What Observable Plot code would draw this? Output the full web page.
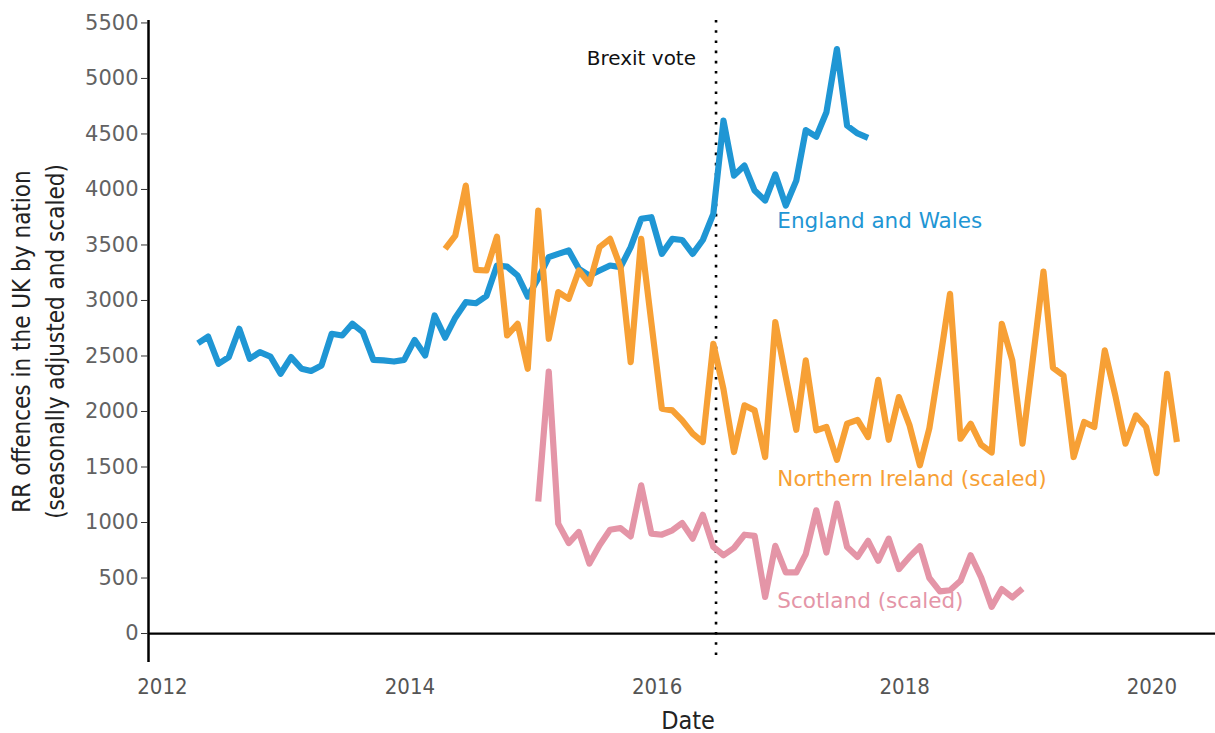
<!DOCTYPE html>
<html>
<head>
<meta charset="utf-8">
<script src="https://cdn.jsdelivr.net/npm/d3@7"></script>
<script src="https://cdn.jsdelivr.net/npm/@observablehq/plot@0.6"></script>
<style>
  html, body { margin: 0; padding: 0; background: #fff; }
  .cond text { font-stretch: condensed; }
</style>
</head>
<body>
<div id="chart"></div>
<script>
// ---- Data (monthly, seasonally adjusted; NI and Scotland scaled) ----
const seriesNames = ["England and Wales", "Northern Ireland (scaled)", "Scotland (scaled)"];
const seriesStart = ["2012-04", "2014-04", "2015-01"]; // first month of each series

const englandWales = [
  2615,2675,2430,2490,2745,2475,2535,2495,2340,2490,
  2385,2365,2415,2700,2685,2790,2715,2465,2460,2450,
  2465,2645,2505,2865,2665,2845,2985,2975,3040,3315,
  3305,3225,3035,3200,3390,3420,3450,3285,3225,3270,
  3315,3300,3480,3735,3750,3420,3555,3545,3420,3545,
  3780,4620,4125,4215,3990,3900,4135,3855,4080,4535,
  4475,4695,5265,4575,4505,4465
];
const northernIreland = [
  3465,3585,4035,3275,3270,3575,2685,2790,2385,3810,
  2655,3075,3015,3270,3150,3480,3555,3300,2445,3555,
  2800,2025,2010,1920,1800,1725,2610,2200,1635,2055,
  2010,1590,2805,2310,1835,2460,1830,1860,1565,1890,
  1925,1770,2285,1745,2130,1880,1515,1850,2450,3060,
  1755,1890,1700,1630,2790,2460,1710,2480,3260,2395,
  2325,1590,1905,1860,2550,2145,1710,1965,1860,1445,
  2340,1725
];
const scotland = [
  1190,2360,990,815,915,630,795,935,950,875,
  1335,900,890,930,995,855,1070,780,705,770,
  890,880,330,790,550,550,715,1110,730,1170,
  780,690,835,655,855,580,690,785,500,380,
  390,475,705,505,240,400,325,405
];

const yTicks = [0,500,1000,1500,2000,2500,3000,3500,4000,4500,5000,5500];
const xTickYears = [2012, 2014, 2016, 2018, 2020];
const brexitVote = "2016-06-23";
const brexitLabel = "Brexit vote";
// label anchor points (date, value) for the direct series labels
const labelDates = ["2016-12-21", "2016-12-21", "2016-12-21"];
const labelValues = [3712, 1390, 290];

// ---- Styling ----
const colors = ["#1f96d4", "#f7a035", "#e495a7"];
const sans = "'DejaVu Sans', 'Noto Sans', sans-serif";
const cond = "'DejaVu Sans Condensed', 'DejaVu Sans', sans-serif";

// ---- Build table ----
function monthly(start, values, name) {
  const [y, m] = start.split("-").map(Number);
  return values.map((v, i) => ({ series: name, date: new Date(Date.UTC(y, m - 1 + i, 15)), value: v }));
}
const allSeries = [englandWales, northernIreland, scotland];
const data = allSeries.flatMap((vals, k) => monthly(seriesStart[k], vals, seriesNames[k]));
const labels = seriesNames.map((n, k) => ({ name: n, date: new Date(labelDates[k]), value: labelValues[k] }));

const xDomain = [new Date(Date.UTC(2011, 10, 21)), new Date(Date.UTC(2020, 6, 7))];

const chart = Plot.plot({
  width: 1215,
  height: 733,
  marginLeft: 148,
  marginRight: 0,
  marginTop: 20,
  marginBottom: 71,
  style: { background: "#fff", overflow: "visible" },
  x: { type: "utc", domain: xDomain },
  y: { domain: [-261, 5522] },
  color: { domain: seriesNames, range: colors },
  marks: [
    Plot.ruleY([0], { stroke: "#000", strokeWidth: 2.2 }),
    Plot.ruleX([xDomain[0]], { stroke: "#000", strokeWidth: 2.5 }),
    Plot.ruleX([new Date(brexitVote)], { stroke: "#000", strokeWidth: 2.6, strokeDasharray: "2.6,7.6" }),
    Plot.line(data, {
      x: "date", y: "value", z: "series", stroke: "series",
      strokeWidth: 6.2, strokeLinejoin: "round", strokeLinecap: "butt"
    }),
    Plot.axisY({
      ticks: yTicks, tickSize: 7, tickPadding: 3, tickFormat: d3.format("d"),
      label: null, fontSize: 21, fontFamily: sans, fill: "#626262", stroke: "#333"
    }),
    Plot.axisX({
      ticks: xTickYears.map(y => new Date(Date.UTC(y, 0, 1))),
      tickSize: 0, tickPadding: 16, tickFormat: d3.utcFormat("%Y"),
      label: null, fontSize: 22, fontFamily: cond, fill: "#555", className: "cond"
    }),
    Plot.text(labels, {
      x: "date", y: "value", text: "name", fill: (d) => d.name,
      textAnchor: "start", lineAnchor: "middle", fontSize: 21.5, fontFamily: sans
    }),
    Plot.text([brexitLabel], {
      x: () => new Date(brexitVote), frameAnchor: "top", dy: 38, dx: -20,
      textAnchor: "end", lineAnchor: "middle", fontSize: 20, fontFamily: sans, fill: "#111"
    }),
    Plot.text(["RR offences in the UK by nation\n(seasonally adjusted and scaled)"], {
      frameAnchor: "left", rotate: -90, dx: -112, textAnchor: "middle", lineAnchor: "middle",
      lineHeight: 1.42, fontSize: 24, fontFamily: cond, fill: "#222", className: "cond"
    }),
    Plot.text(["Date"], {
      frameAnchor: "bottom", dx: 6, dy: 58, textAnchor: "middle", lineAnchor: "middle",
      fontSize: 25, fontFamily: cond, fill: "#222", className: "cond"
    })
  ]
});
document.getElementById("chart").appendChild(chart);
</script>
</body>
</html>
